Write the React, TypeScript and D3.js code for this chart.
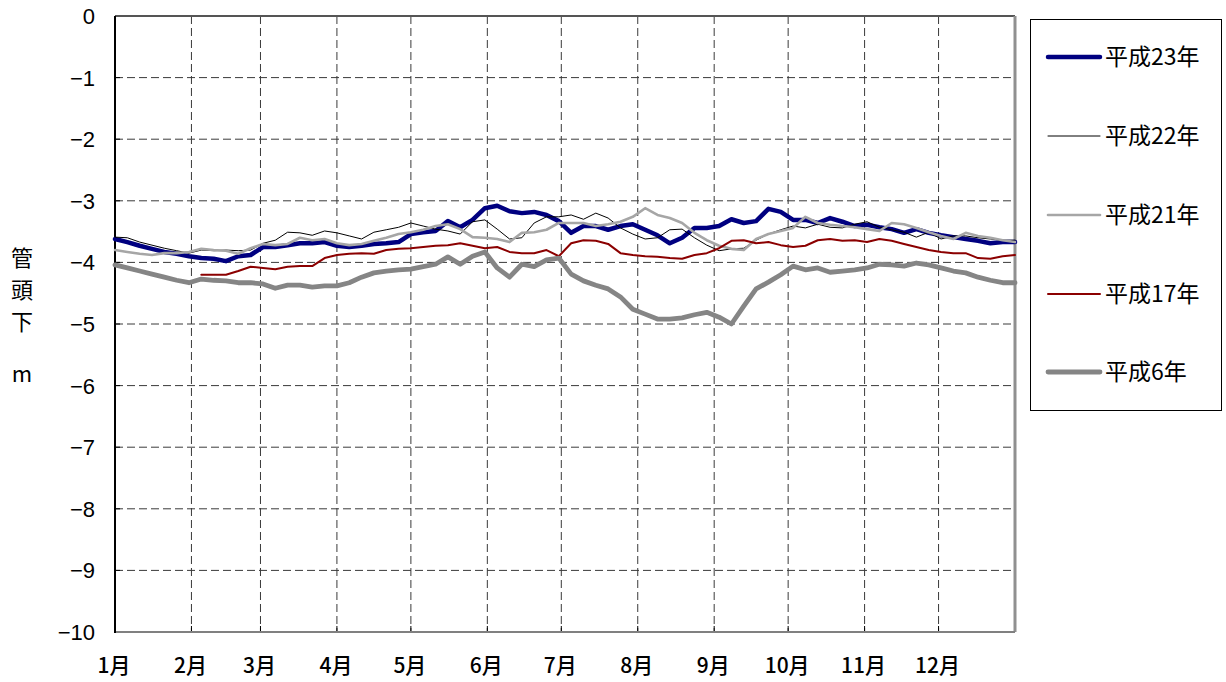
import React from "react";
import * as d3 from "d3";

const days = [0,5,10,15,20,25,30,35,40,45,50,55,60,65,70,75,80,85,90,95,100,105,110,115,120,125,130,135,140,145,150,155,160,165,170,175,180,185,190,195,200,205,210,215,220,225,230,235,240,245,250,255,260,265,270,275,280,285,290,295,300,305,310,315,320,325,330,335,340,345,350,355,360,365];

const h23 = [-3.62,-3.67,-3.73,-3.78,-3.83,-3.86,-3.90,-3.93,-3.94,-3.98,-3.90,-3.88,-3.75,-3.75,-3.72,-3.69,-3.69,-3.67,-3.73,-3.75,-3.73,-3.70,-3.69,-3.67,-3.54,-3.51,-3.49,-3.33,-3.43,-3.31,-3.12,-3.08,-3.17,-3.20,-3.18,-3.23,-3.33,-3.52,-3.41,-3.41,-3.47,-3.41,-3.38,-3.47,-3.56,-3.69,-3.60,-3.44,-3.44,-3.41,-3.30,-3.36,-3.33,-3.13,-3.18,-3.31,-3.31,-3.36,-3.28,-3.34,-3.41,-3.39,-3.43,-3.46,-3.52,-3.46,-3.52,-3.56,-3.59,-3.62,-3.65,-3.69,-3.67,-3.67];

const h22 = [-3.59,-3.60,-3.67,-3.72,-3.77,-3.81,-3.85,-3.80,-3.81,-3.80,-3.81,-3.80,-3.69,-3.64,-3.51,-3.52,-3.56,-3.49,-3.52,-3.57,-3.62,-3.51,-3.47,-3.43,-3.36,-3.41,-3.46,-3.49,-3.54,-3.34,-3.31,-3.46,-3.62,-3.60,-3.36,-3.26,-3.26,-3.23,-3.30,-3.20,-3.28,-3.44,-3.54,-3.62,-3.60,-3.47,-3.46,-3.60,-3.72,-3.81,-3.78,-3.77,-3.64,-3.54,-3.47,-3.41,-3.44,-3.38,-3.43,-3.44,-3.38,-3.34,-3.43,-3.47,-3.51,-3.59,-3.51,-3.62,-3.57,-3.57,-3.60,-3.62,-3.64,-3.64];

const h21 = [-3.80,-3.83,-3.86,-3.88,-3.85,-3.85,-3.83,-3.78,-3.80,-3.81,-3.86,-3.77,-3.70,-3.72,-3.70,-3.60,-3.64,-3.62,-3.69,-3.72,-3.70,-3.65,-3.60,-3.54,-3.51,-3.47,-3.41,-3.38,-3.46,-3.59,-3.60,-3.62,-3.67,-3.52,-3.51,-3.47,-3.36,-3.36,-3.36,-3.41,-3.38,-3.34,-3.26,-3.12,-3.23,-3.28,-3.36,-3.52,-3.64,-3.73,-3.78,-3.80,-3.62,-3.54,-3.49,-3.44,-3.26,-3.36,-3.39,-3.41,-3.43,-3.46,-3.49,-3.36,-3.38,-3.44,-3.51,-3.57,-3.62,-3.52,-3.57,-3.60,-3.64,-3.67];

const h17 = [null,null,null,null,null,null,null,-4.20,-4.20,-4.20,-4.14,-4.07,-4.09,-4.11,-4.07,-4.06,-4.06,-3.93,-3.88,-3.86,-3.85,-3.86,-3.80,-3.78,-3.77,-3.75,-3.73,-3.72,-3.69,-3.73,-3.77,-3.75,-3.83,-3.85,-3.85,-3.80,-3.90,-3.69,-3.64,-3.65,-3.70,-3.85,-3.88,-3.90,-3.91,-3.93,-3.94,-3.88,-3.85,-3.77,-3.65,-3.64,-3.69,-3.67,-3.72,-3.75,-3.73,-3.64,-3.62,-3.65,-3.64,-3.67,-3.62,-3.65,-3.70,-3.75,-3.80,-3.83,-3.85,-3.85,-3.93,-3.94,-3.90,-3.88];

const h6 = [-4.04,-4.09,-4.14,-4.19,-4.24,-4.29,-4.33,-4.27,-4.29,-4.30,-4.33,-4.33,-4.35,-4.42,-4.37,-4.37,-4.40,-4.38,-4.38,-4.33,-4.24,-4.17,-4.14,-4.12,-4.11,-4.07,-4.03,-3.91,-4.03,-3.90,-3.83,-4.09,-4.24,-4.03,-4.07,-3.96,-3.93,-4.19,-4.30,-4.37,-4.43,-4.56,-4.76,-4.84,-4.92,-4.92,-4.90,-4.85,-4.81,-4.89,-5.00,-4.71,-4.43,-4.32,-4.20,-4.06,-4.12,-4.09,-4.16,-4.14,-4.12,-4.09,-4.03,-4.04,-4.06,-4.01,-4.04,-4.09,-4.14,-4.17,-4.24,-4.29,-4.33,-4.33];

const monthStarts = [0,31,59,90,120,151,181,212,243,273,304,334];
const monthLabels = ["1月","2月","3月","4月","5月","6月","7月","8月","9月","10月","11月","12月"];
const yTicks = [0,-1,-2,-3,-4,-5,-6,-7,-8,-9,-10];
const yTitle = ["管","頭","下"];
const yUnit = "m";

const seriesNames = ["平成23年","平成22年","平成21年","平成17年","平成6年"];
const seriesValues = [h23, h22, h21, h17, h6];
const seriesColors = ["#000080","#000000","#a6a6a6","#8b0000","#858585"];
const seriesWidths = [4.5, 1, 2.6, 2, 4.8];

export default function App() {
  const W = 1226, H = 682;
  const L = 115, R = 1015, T = 16, B = 632;
  const x = d3.scaleLinear().domain([0, 365]).range([L, R]);
  const y = d3.scaleLinear().domain([0, -10]).range([T, B]);
  const font = "'Noto Sans CJK JP', 'Noto Sans', sans-serif";
  const numFont = "'Liberation Sans', Arial, sans-serif";

  const line = d3.line<any>()
    .defined((d) => d[1] !== null)
    .x((d) => x(d[0]))
    .y((d) => y(d[1] as number))
    .curve(d3.curveLinear);

  const legendRows = [57, 136, 215, 294, 372];

  return (
    <svg width={W} height={H} style={{ position: "absolute", left: 0, top: 0, background: "#fff" }}>
      <rect x={0} y={0} width={W} height={H} fill="#ffffff" />
      {yTicks.filter((t) => t !== 0 && t !== -10).map((t) => (
        <line key={"hg" + t} x1={L} x2={R} y1={y(t)} y2={y(t)} stroke="#3a3a3a" strokeWidth={1} strokeDasharray="8,4" />
      ))}
      {monthStarts.slice(1).map((m) => (
        <line key={"vg" + m} x1={x(m)} x2={x(m)} y1={T} y2={B} stroke="#3a3a3a" strokeWidth={1} strokeDasharray="8,4" />
      ))}
      {monthStarts.slice(1).map((m) => (
        <line key={"xt" + m} x1={x(m)} x2={x(m)} y1={B - 6} y2={B} stroke="#000" strokeWidth={1} />
      ))}
      {yTicks.map((t) => (
        <line key={"yt" + t} x1={L} x2={L + 5} y1={y(t)} y2={y(t)} stroke="#000" strokeWidth={1} />
      ))}
      <line x1={L} x2={R} y1={T} y2={T} stroke="#555" strokeWidth={2} />
      <line x1={R} x2={R} y1={T} y2={B} stroke="#909090" strokeWidth={3} />
      <line x1={L} x2={R} y1={B} y2={B} stroke="#808080" strokeWidth={2} />
      <line x1={L} x2={L} y1={T} y2={B + 1} stroke="#000" strokeWidth={2} />

      {seriesValues.map((vals, i) => (
        <path
          key={"s" + i}
          d={line(days.map((d, j) => [d, vals[j]])) || ""}
          fill="none"
          stroke={seriesColors[i]}
          strokeWidth={seriesWidths[i]}
          strokeLinejoin="round"
          strokeLinecap="round"
        />
      ))}

      {yTicks.map((t) => (
        <text key={"yl" + t} x={95} y={y(t)} dy="0.36em" textAnchor="end" fontFamily={numFont} fontSize={22} fill="#000">
          {t === 0 ? "0" : "\u2212" + Math.abs(t)}
        </text>
      ))}
      {monthStarts.map((m, i) => (
        <text key={"xl" + m} x={x(m) - 1} y={673} textAnchor="middle" fontFamily={font} fontSize={21} fontWeight={500} fill="#000">
          {monthLabels[i]}
        </text>
      ))}
      {yTitle.map((c, i) => (
        <text key={"ytt" + i} x={22} y={258 + i * 32} dy="0.36em" textAnchor="middle" fontFamily={font} fontSize={22} fill="#000">
          {c}
        </text>
      ))}
      <text x={22} y={374} dy="0.36em" textAnchor="middle" fontFamily={font} fontSize={22} fill="#000">{yUnit}</text>

      <rect x={1030.5} y={19.5} width={191} height={391} fill="#fff" stroke="#000" strokeWidth={1} />
      {seriesNames.map((n, i) => (
        <g key={"lg" + i}>
          <line x1={1048} x2={1100} y1={legendRows[i]} y2={legendRows[i]} stroke={seriesColors[i]} strokeWidth={seriesWidths[i]} strokeLinecap="round" />
          <text x={1105} y={legendRows[i]} dy="0.36em" fontFamily={font} fontSize={23} fill="#000">{n}</text>
        </g>
      ))}
    </svg>
  );
}
